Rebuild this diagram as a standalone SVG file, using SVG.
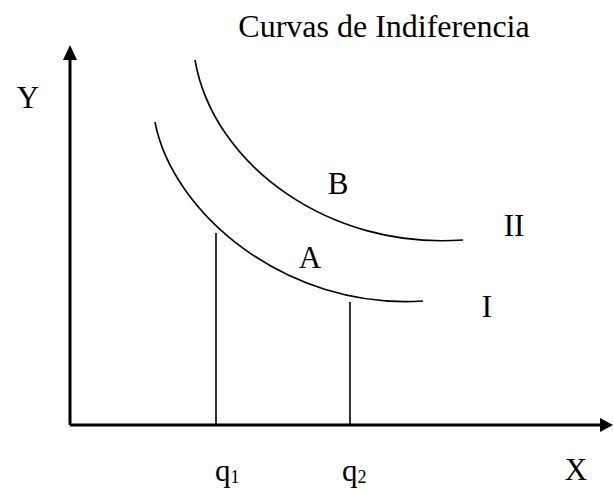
<svg xmlns="http://www.w3.org/2000/svg" width="613" height="490" viewBox="0 0 613 490">
<style>
text{font-family:"Liberation Serif","Times New Roman",serif;font-size:31px;fill:#000}
.ax{stroke:#000;stroke-width:3;fill:none}
.cv{stroke:#000;stroke-width:1.6;fill:none}
.ln{stroke:#000;stroke-width:1.6}
.sub{font-size:18px}
</style>
<rect width="613" height="490" fill="#fff"/>
<g id="connectors">
<line class="ax" x1="70" y1="425" x2="70" y2="58"/>
<polygon points="70,45 63,60 77,60" fill="#000"/>
<line class="ax" x1="70" y1="425" x2="605" y2="425"/>
<polygon points="613,425 600,418 600,432" fill="#000"/>
<line class="ln" x1="216" y1="233" x2="216" y2="425"/>
<line class="ln" x1="350" y1="302" x2="350" y2="425"/>
</g>
<g id="curveI"><path class="cv" d="M155,122 C172,212 285,310 423,301"/></g>
<g id="curveII"><path class="cv" d="M195,60 C213,165 330,250 463,240"/></g>
<g id="labels">
<text x="384" y="37" text-anchor="middle" style="font-size:32px">Curvas de Indiferencia</text>
<text x="28" y="108" text-anchor="middle">Y</text>
<text x="338" y="194" text-anchor="middle">B</text>
<text x="514" y="236" text-anchor="middle">II</text>
<text x="310" y="268" text-anchor="middle">A</text>
<text x="487" y="317" text-anchor="middle">I</text>
<text x="215" y="481">q<tspan class="sub" dy="2">1</tspan></text>
<text x="342" y="481">q<tspan class="sub" dy="2">2</tspan></text>
<text x="576" y="480" text-anchor="middle">X</text>
</g>
</svg>
